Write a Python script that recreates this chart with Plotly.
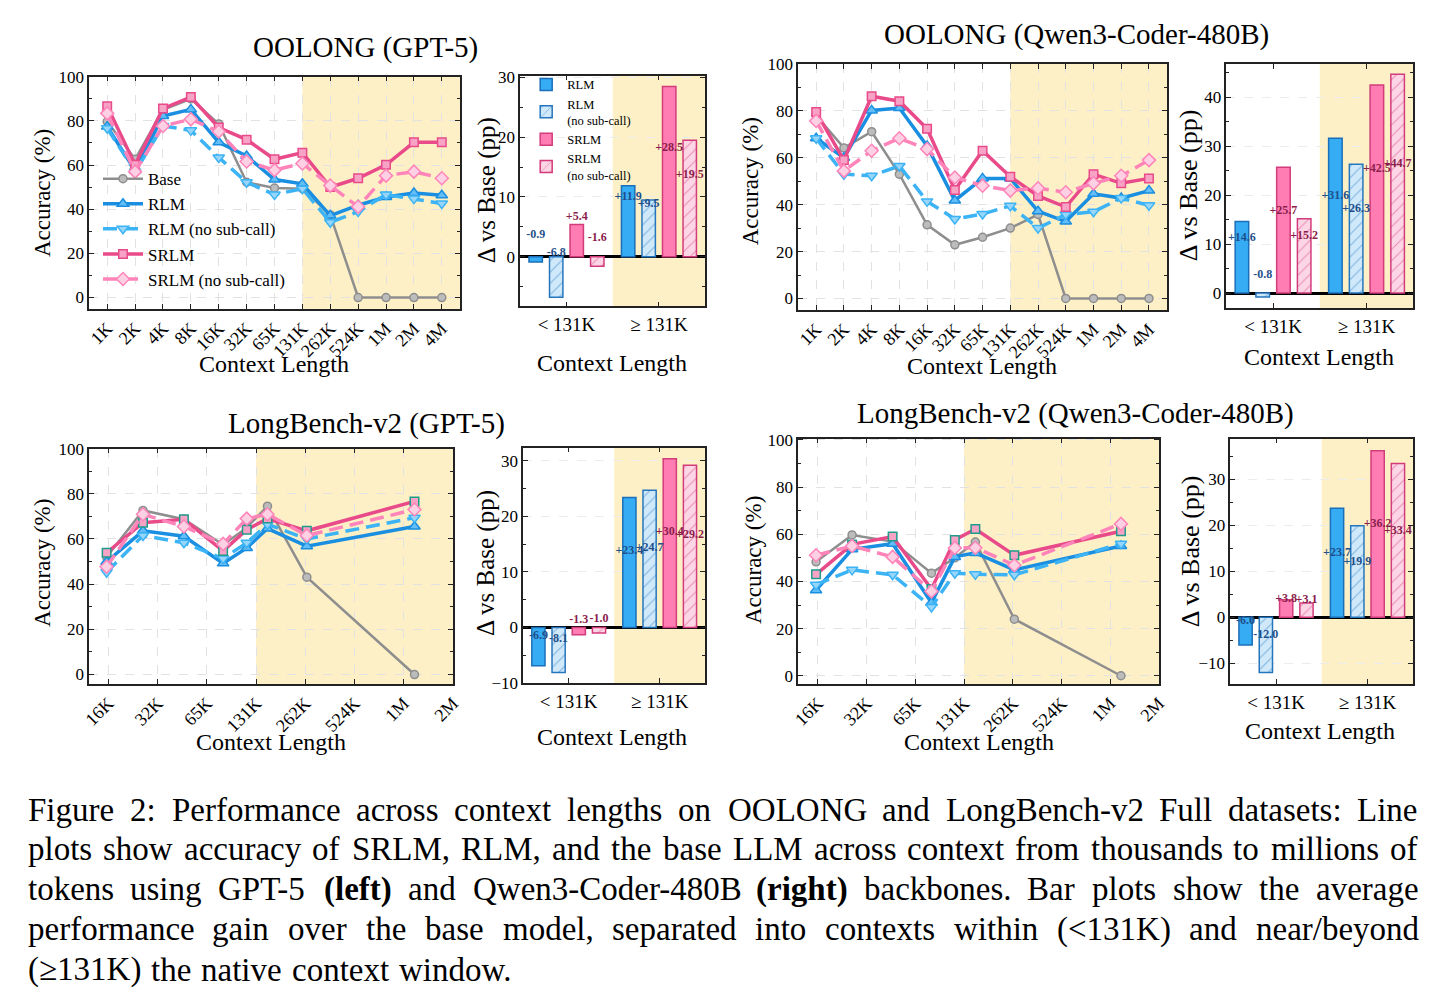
import math
import plotly.graph_objects as go

W, H = 1443, 1007
FONT = "Liberation Serif"

# ------------------------------------------------------------------ data
OOLONG_LABELS = ["1K", "2K", "4K", "8K", "16K", "32K", "65K", "131K", "262K", "524K", "1M", "2M", "4M"]

OOL_GPT_BASE = [79.7, 62.6, 85.0, 90.0, 78.6, 52.2, 49.6, 49.3, 37.4, 0, 0, 0, 0]
OOL_GPT_RLM = [77.4, 57.5, 82.2, 85.2, 70.3, 64.1, 53.4, 51.5, 37.1, 41.8, 45.5, 47.3, 46.3]
OOL_GPT_RLM_NS = [76.7, 57.0, 77.7, 75.7, 63.4, 52.2, 46.6, 49.3, 34.1, 38.9, 46.6, 44.8, 42.6]
OOL_GPT_SRLM = [86.6, 60.1, 85.6, 90.8, 77.0, 71.5, 62.6, 65.6, 50.0, 54.0, 60.1, 70.3, 70.3]
OOL_GPT_SRLM_NS = [83.4, 57.0, 77.7, 80.7, 75.2, 61.6, 57.7, 60.7, 50.7, 41.1, 55.2, 57.0, 54.0]

OOL_QWEN_BASE = [78.0, 64.2, 71.1, 53.0, 31.4, 22.9, 26.1, 30.0, 35.8, 0, 0, 0, 0]
OOL_QWEN_RLM = [68.3, 60.0, 80.2, 81.2, 65.0, 41.8, 51.2, 51.2, 37.2, 32.8, 44.6, 42.8, 46.0]
OOL_QWEN_RLM_NS = [68.3, 53.0, 52.3, 56.5, 41.4, 33.9, 36.0, 39.5, 30.0, 35.8, 37.0, 42.8, 39.7]
OOL_QWEN_SRLM = [79.5, 59.0, 86.2, 84.1, 72.4, 46.3, 63.0, 51.9, 43.7, 39.0, 53.0, 49.1, 51.2]
OOL_QWEN_SRLM_NS = [75.7, 54.4, 63.0, 68.3, 63.7, 51.6, 48.1, 46.0, 47.0, 45.3, 49.1, 52.3, 59.0]

LB_X = [16000, 26700, 47500, 82500, 115000, 154000, 268000, 1220000]
LB_TICKVALS = [16384, 32768, 65536, 131072, 262144, 524288, 1048576, 2097152]
LB_TICKTEXT = ["16K", "32K", "65K", "131K", "262K", "524K", "1M", "2M"]

LB_GPT_BASE = [52.0, 72.6, 68.7, 57.4, 65.0, 74.5, 43.1, 0]
LB_GPT_RLM = [49.9, 63.6, 61.2, 49.2, 56.0, 64.6, 56.8, 65.5]
LB_GPT_RLM_NS = [45.3, 61.5, 58.3, 51.3, 58.3, 66.5, 60.0, 69.4]
LB_GPT_SRLM = [53.9, 67.2, 68.7, 54.7, 64.1, 69.0, 63.6, 76.6]
LB_GPT_SRLM_NS = [47.7, 70.9, 65.5, 57.8, 69.0, 70.9, 61.5, 73.0]

LB_QWEN_BASE = [48.3, 59.7, 56.9, 43.5, 50.0, 56.7, 24.0, 0]
LB_QWEN_RLM = [36.3, 53.6, 56.0, 31.0, 50.4, 52.1, 44.9, 55.0]
LB_QWEN_RLM_NS = [38.6, 44.9, 42.8, 29.2, 43.5, 43.0, 42.8, 56.0]
LB_QWEN_SRLM = [43.0, 55.7, 59.0, 36.8, 57.6, 62.2, 51.1, 61.3]
LB_QWEN_SRLM_NS = [51.1, 55.0, 50.4, 35.8, 54.2, 54.3, 46.9, 64.4]

BAR_GROUPS = ["&lt; 131K", "≥ 131K"]
OOL_GPT_GAIN_RLM = [-0.9, 11.9]
OOL_GPT_GAIN_RLM_NS = [-6.8, 9.5]
OOL_GPT_GAIN_SRLM = [5.4, 28.5]
OOL_GPT_GAIN_SRLM_NS = [-1.6, 19.5]

OOL_QWEN_GAIN_RLM = [14.6, 31.6]
OOL_QWEN_GAIN_RLM_NS = [-0.8, 26.3]
OOL_QWEN_GAIN_SRLM = [25.7, 42.5]
OOL_QWEN_GAIN_SRLM_NS = [15.2, 44.7]

LB_GPT_GAIN_RLM = [-6.9, 23.4]
LB_GPT_GAIN_RLM_NS = [-8.1, 24.7]
LB_GPT_GAIN_SRLM = [-1.3, 30.4]
LB_GPT_GAIN_SRLM_NS = [-1.0, 29.2]

LB_QWEN_GAIN_RLM = [-6.0, 23.7]
LB_QWEN_GAIN_RLM_NS = [-12.0, 19.9]
LB_QWEN_GAIN_SRLM = [3.8, 36.2]
LB_QWEN_GAIN_SRLM_NS = [3.1, 33.4]

SERIES = ["Base", "RLM", "RLM (no sub-call)", "SRLM", "SRLM (no sub-call)"]
BAR_SERIES = ["RLM", "RLM (no sub-call)", "SRLM", "SRLM (no sub-call)"]
BAR_LEGEND_NAMES = ["RLM", "RLM<br>(no sub-call)", "SRLM", "SRLM<br>(no sub-call)"]

CAPTION_LINES = [
    "Figure 2: Performance across context lengths on OOLONG and LongBench-v2 Full datasets: Line",
    "plots show accuracy of SRLM, RLM, and the base LLM across context from thousands to millions of",
    "tokens using GPT-5 **(left)** and Qwen3-Coder-480B **(right)** backbones. Bar plots show the average",
    "performance gain over the base model, separated into contexts within (<131K) and near/beyond",
    "(≥131K) the native context window.",
]

# ------------------------------------------------------------------ styles
SHADE = "#fdf0c6"
LINE_STYLE = {
    "Base": dict(color="#8e8e8e", width=2.5, dash="solid", symbol="circle", size=8, fill="#bcbcbc", edge="#8e8e8e"),
    "RLM": dict(color="#1a8ee0", width=3.5, dash="solid", symbol="triangle-up", size=10, fill="#63bdf6", edge="#1a8ee0"),
    "RLM (no sub-call)": dict(color="#3bb3f5", width=3.5, dash="14px,7px", symbol="triangle-down", size=10, fill="#97d5fa", edge="#3bb3f5"),
    "SRLM": dict(color="#e84a8a", width=3.5, dash="solid", symbol="square", size=8.5, fill="#f7a3c6", edge="#e84a8a"),
    "SRLM (no sub-call)": dict(color="#ff84b9", width=3.5, dash="14px,7px", symbol="diamond", size=10, fill="#fdd0e3", edge="#ff84b9"),
}
LB_SRLM_EDGE = "#1f9b8c"
BAR_STYLE = {
    "RLM": dict(fill="#36acf5", edge="#1b6fb8", pattern="", label="#1f4f8a"),
    "RLM (no sub-call)": dict(fill="#cfe9fb", edge="#2676bd", pattern="/", label="#1f4f8a"),
    "SRLM": dict(fill="#ff7db2", edge="#d23c7c", pattern="", label="#8a1d4c"),
    "SRLM (no sub-call)": dict(fill="#fdd6e6", edge="#d23c7c", pattern="/", label="#8a1d4c"),
}
BAR_SLOT = 0.222
BAR_WIDTH = 0.145


def fx(px):
    return px / W


def fy(py):
    return 1 - py / H


# panel pixel boxes (left, right), (top, bottom)
PANELS = {
    1: dict(x=(83, 458), y=(69, 306), kind="cat", yr=[-5.3, 100]),
    2: dict(x=(519, 706), y=(68, 303), kind="bar", yr=[-8.3, 30.3], lab_off=4.0),
    3: dict(x=(800, 1173), y=(56, 307), kind="cat", yr=[-5.0, 100]),
    4: dict(x=(1233, 1422), y=(56, 305), kind="bar", yr=[-3.1, 46.8], lab_off=4.0),
    5: dict(x=(83, 451), y=(448, 688), kind="log", yr=[-4.2, 100], xlo=12500),
    6: dict(x=(522, 706), y=(447, 687), kind="bar", yr=[-10, 32.4], lab_off=2.0),
    7: dict(x=(800, 1165), y=(438, 688), kind="log", yr=[-3.5, 100.5], xlo=12400),
    8: dict(x=(1237, 1422), y=(438, 688), kind="bar", yr=[-14.5, 38.8], lab_off=2.1),
}

LINE_DATA = {
    1: (OOLONG_LABELS, [OOL_GPT_BASE, OOL_GPT_RLM, OOL_GPT_RLM_NS, OOL_GPT_SRLM, OOL_GPT_SRLM_NS]),
    3: (OOLONG_LABELS, [OOL_QWEN_BASE, OOL_QWEN_RLM, OOL_QWEN_RLM_NS, OOL_QWEN_SRLM, OOL_QWEN_SRLM_NS]),
    5: (LB_X, [LB_GPT_BASE, LB_GPT_RLM, LB_GPT_RLM_NS, LB_GPT_SRLM, LB_GPT_SRLM_NS]),
    7: (LB_X, [LB_QWEN_BASE, LB_QWEN_RLM, LB_QWEN_RLM_NS, LB_QWEN_SRLM, LB_QWEN_SRLM_NS]),
}
BAR_DATA = {
    2: [OOL_GPT_GAIN_RLM, OOL_GPT_GAIN_RLM_NS, OOL_GPT_GAIN_SRLM, OOL_GPT_GAIN_SRLM_NS],
    4: [OOL_QWEN_GAIN_RLM, OOL_QWEN_GAIN_RLM_NS, OOL_QWEN_GAIN_SRLM, OOL_QWEN_GAIN_SRLM_NS],
    6: [LB_GPT_GAIN_RLM, LB_GPT_GAIN_RLM_NS, LB_GPT_GAIN_SRLM, LB_GPT_GAIN_SRLM_NS],
    8: [LB_QWEN_GAIN_RLM, LB_QWEN_GAIN_RLM_NS, LB_QWEN_GAIN_SRLM, LB_QWEN_GAIN_SRLM_NS],
}

fig = go.Figure()
layout = {}
shapes = []

common = dict(
    showline=True, linecolor="#222222", linewidth=1.5, mirror="allticks",
    ticks="inside", ticklen=5, tickwidth=1, tickcolor="#222222",
    showgrid=True, gridcolor="#e2e2e2", griddash="dash", gridwidth=1,
    zeroline=False, tickfont=dict(family=FONT, size=17, color="black"),
)

for i, p in PANELS.items():
    sx = "" if i == 1 else str(i)
    xa = dict(common, domain=[fx(p["x"][0]), fx(p["x"][1])], anchor="y" + sx)
    ya = dict(common, domain=[fy(p["y"][1]), fy(p["y"][0])], anchor="x" + sx, range=p["yr"])
    if p["kind"] == "cat":
        n = len(OOLONG_LABELS)
        xa.update(type="category", categoryorder="array", categoryarray=OOLONG_LABELS,
                  range=[-0.65, n - 1 + 0.65], tickangle=-45,
                  tickfont=dict(family=FONT, size=18, color="black"))
        ya.update(tickvals=[0, 20, 40, 60, 80, 100],
                  minor=dict(dtick=10, ticks="inside", ticklen=3, tickcolor="#222222", showgrid=False))
        x0, x1 = OOLONG_LABELS.index("131K"), n - 1 + 0.65
    elif p["kind"] == "log":
        xa.update(type="log", range=[math.log10(p["xlo"]), math.log10(LB_TICKVALS[-1])],
                  tickvals=LB_TICKVALS, ticktext=LB_TICKTEXT, tickangle=-45,
                  tickfont=dict(family=FONT, size=18, color="black"))
        ya.update(tickvals=[0, 20, 40, 60, 80, 100],
                  minor=dict(dtick=10, ticks="inside", ticklen=3, tickcolor="#222222", showgrid=False))
        x0, x1 = 131072, LB_TICKVALS[-1]
    else:
        xa.update(range=[-0.5, 1.5], tickvals=[0, 1], ticktext=BAR_GROUPS, showgrid=False,
                  tickfont=dict(family=FONT, size=19, color="black"))
        ya.update(dtick=10, gridcolor="#ececec", zeroline=True, zerolinecolor="black", zerolinewidth=2.5,
                  minor=dict(dtick=5, ticks="inside", ticklen=3, tickcolor="#222222", showgrid=False))
        x0, x1 = 0.5, 1.5
    layout["xaxis" + sx] = xa
    layout["yaxis" + sx] = ya
    shapes.append(dict(type="rect", xref="x" + sx, yref="y" + sx + " domain", x0=x0, x1=x1,
                       y0=0, y1=1, fillcolor=SHADE, line=dict(width=0), layer="below"))

# line traces
for i, (xs, ys_list) in LINE_DATA.items():
    sx = "" if i == 1 else str(i)
    for name, ys in zip(SERIES, ys_list):
        st = LINE_STYLE[name]
        edge = st["edge"]
        if name == "SRLM" and PANELS[i]["kind"] == "log":
            edge = LB_SRLM_EDGE
        fig.add_trace(go.Scatter(
            x=xs, y=ys, mode="lines+markers", name=name, legendgroup=name,
            showlegend=(i == 1), legend="legend",
            line=dict(color=st["color"], width=st["width"], dash=st["dash"]),
            marker=dict(symbol=st["symbol"], size=st["size"], color=st["fill"],
                        line=dict(color=edge, width=1.5)),
            xaxis="x" + sx, yaxis="y" + sx, cliponaxis=False,
        ))

# bar traces
for i, vals_list in BAR_DATA.items():
    sx = "" if i == 1 else str(i)
    off = PANELS[i]["lab_off"]
    for k, (name, lname, vals) in enumerate(zip(BAR_SERIES, BAR_LEGEND_NAMES, vals_list)):
        st = BAR_STYLE[name]
        xs = [g + (k - 1.5) * BAR_SLOT for g in range(len(vals))]
        fig.add_trace(go.Bar(
            x=xs, y=vals, width=BAR_WIDTH, name=lname, legendgroup="bar_" + name,
            showlegend=(i == 2), legend="legend2",
            marker=dict(color=st["fill"], line=dict(color=st["edge"], width=1.5),
                        pattern=dict(shape=st["pattern"], fgcolor=st["edge"], bgcolor=st["fill"],
                                     size=8, solidity=0.12)),
            xaxis="x" + sx, yaxis="y" + sx,
        ))
        fig.add_trace(go.Scatter(
            x=xs, y=[v / 2 + off for v in vals], mode="text",
            text=["<b>%+.1f</b>" % v for v in vals],
            textfont=dict(family=FONT, size=12, color=st["label"]),
            showlegend=False, hoverinfo="skip", cliponaxis=False,
            xaxis="x" + sx, yaxis="y" + sx,
        ))

# ------------------------------------------------------------------ annotations
ann = []
TITLES = [("OOLONG (GPT-5)", 363, 39), ("OOLONG (Qwen3-Coder-480B)", 1081, 26),
          ("LongBench-v2 (GPT-5)", 364, 422), ("LongBench-v2 (Qwen3-Coder-480B)", 1080, 412)]
for t, x, y in TITLES:
    ann.append(dict(text=t, x=fx(x), y=fy(y), xref="paper", yref="paper", showarrow=False,
                    xanchor="center", yanchor="middle", font=dict(family=FONT, size=29, color="black")))

YLABELS = [("Accuracy (%)", 36, 188, 23), ("Accuracy (%)", 752, 176, 23),
           ("Accuracy (%)", 36, 565, 23), ("Accuracy (%)", 755, 562, 23),
           ("Δ vs Base (pp)", 485, 185, 25), ("Δ vs Base (pp)", 1195, 180, 26),
           ("Δ vs Base (pp)", 485, 565, 25), ("Δ vs Base (pp)", 1197, 553, 26)]
for t, x, y, s in YLABELS:
    ann.append(dict(text=t, x=fx(x), y=fy(y), xref="paper", yref="paper", showarrow=False, textangle=-90,
                    xanchor="center", yanchor="middle", font=dict(family=FONT, size=s, color="black")))

XLABELS = [(270, 362), (612, 361), (986, 364), (1327, 355), (267, 747), (612, 742), (983, 747), (1328, 736)]
for x, y in XLABELS:
    ann.append(dict(text="Context Length", x=fx(x), y=fy(y), xref="paper", yref="paper", showarrow=False,
                    xanchor="center", yanchor="middle", font=dict(family=FONT, size=24, color="black")))

# caption, justified word by word using Times metrics
_w = {}
_w.update(zip("abcdefghijklmnopqrstuvwxyz",
              [444, 500, 444, 500, 444, 333, 500, 500, 278, 278, 500, 278, 778, 500, 500, 500, 500, 333, 389, 278, 500, 500, 722, 500, 500, 444]))
_w.update(zip("ABCDEFGHIJKLMNOPQRSTUVWXYZ",
              [722, 667, 667, 722, 611, 556, 722, 722, 333, 389, 722, 611, 889, 722, 722, 556, 722, 667, 556, 611, 722, 722, 944, 722, 722, 611]))
_w.update({c: 500 for c in "0123456789"})
_w.update({":": 278, ",": 250, ".": 250, "-": 333, "(": 333, ")": 333, "<": 564, "≥": 549, "/": 278, " ": 250})
_wb = {"(": 333, ")": 333, "l": 278, "e": 444, "f": 333, "t": 333, "r": 444, "i": 278, "g": 500, "h": 556}


def word_width(word, bold, fs):
    tab = dict(_w)
    if bold:
        tab.update(_wb)
    return sum(tab.get(c, 500) for c in word) * fs / 1000.0


CAP_FS = 33
CAP_LEFT, CAP_RIGHT = 20, 1425
CAP_Y = [816, 856, 897, 938, 979]
for li, line in enumerate(CAPTION_LINES):
    words = line.split(" ")
    items = []
    for wd in words:
        bold = wd.startswith("**")
        plain = wd.replace("**", "")
        items.append((plain, bold, word_width(plain, bold, CAP_FS)))
    total = sum(it[2] for it in items)
    if li < len(CAPTION_LINES) - 1:
        gap = (CAP_RIGHT - CAP_LEFT - total) / (len(items) - 1)
    else:
        gap = 330 * CAP_FS / 1000.0
    x = CAP_LEFT
    for plain, bold, wdt in items:
        html = plain.replace("<", "&lt;").replace(">", "&gt;")
        if bold:
            html = "<b>" + html + "</b>"
        ann.append(dict(text=html, x=fx(x), y=fy(CAP_Y[li]), xref="paper", yref="paper", showarrow=False,
                        xanchor="left", yanchor="middle", borderpad=0,
                        font=dict(family=FONT, size=CAP_FS, color="black")))
        x += wdt + gap

layout.update(
    width=W, height=H, margin=dict(l=0, r=0, t=0, b=0),
    paper_bgcolor="white", plot_bgcolor="white",
    showlegend=True, barmode="overlay",
    font=dict(family=FONT, color="black"),
    legend=dict(x=fx(92), y=fy(155), xanchor="left", yanchor="top", bgcolor="rgba(0,0,0,0)",
                font=dict(family=FONT, size=17, color="black"), itemwidth=40, tracegroupgap=0),
    legend2=dict(x=fx(524), y=fy(62), xanchor="left", yanchor="top", bgcolor="rgba(0,0,0,0)",
                 font=dict(family=FONT, size=12.5, color="black"), itemwidth=32, tracegroupgap=0),
    shapes=shapes, annotations=ann,
)
fig.update_layout(**layout)
fig.write_html("out.html")
